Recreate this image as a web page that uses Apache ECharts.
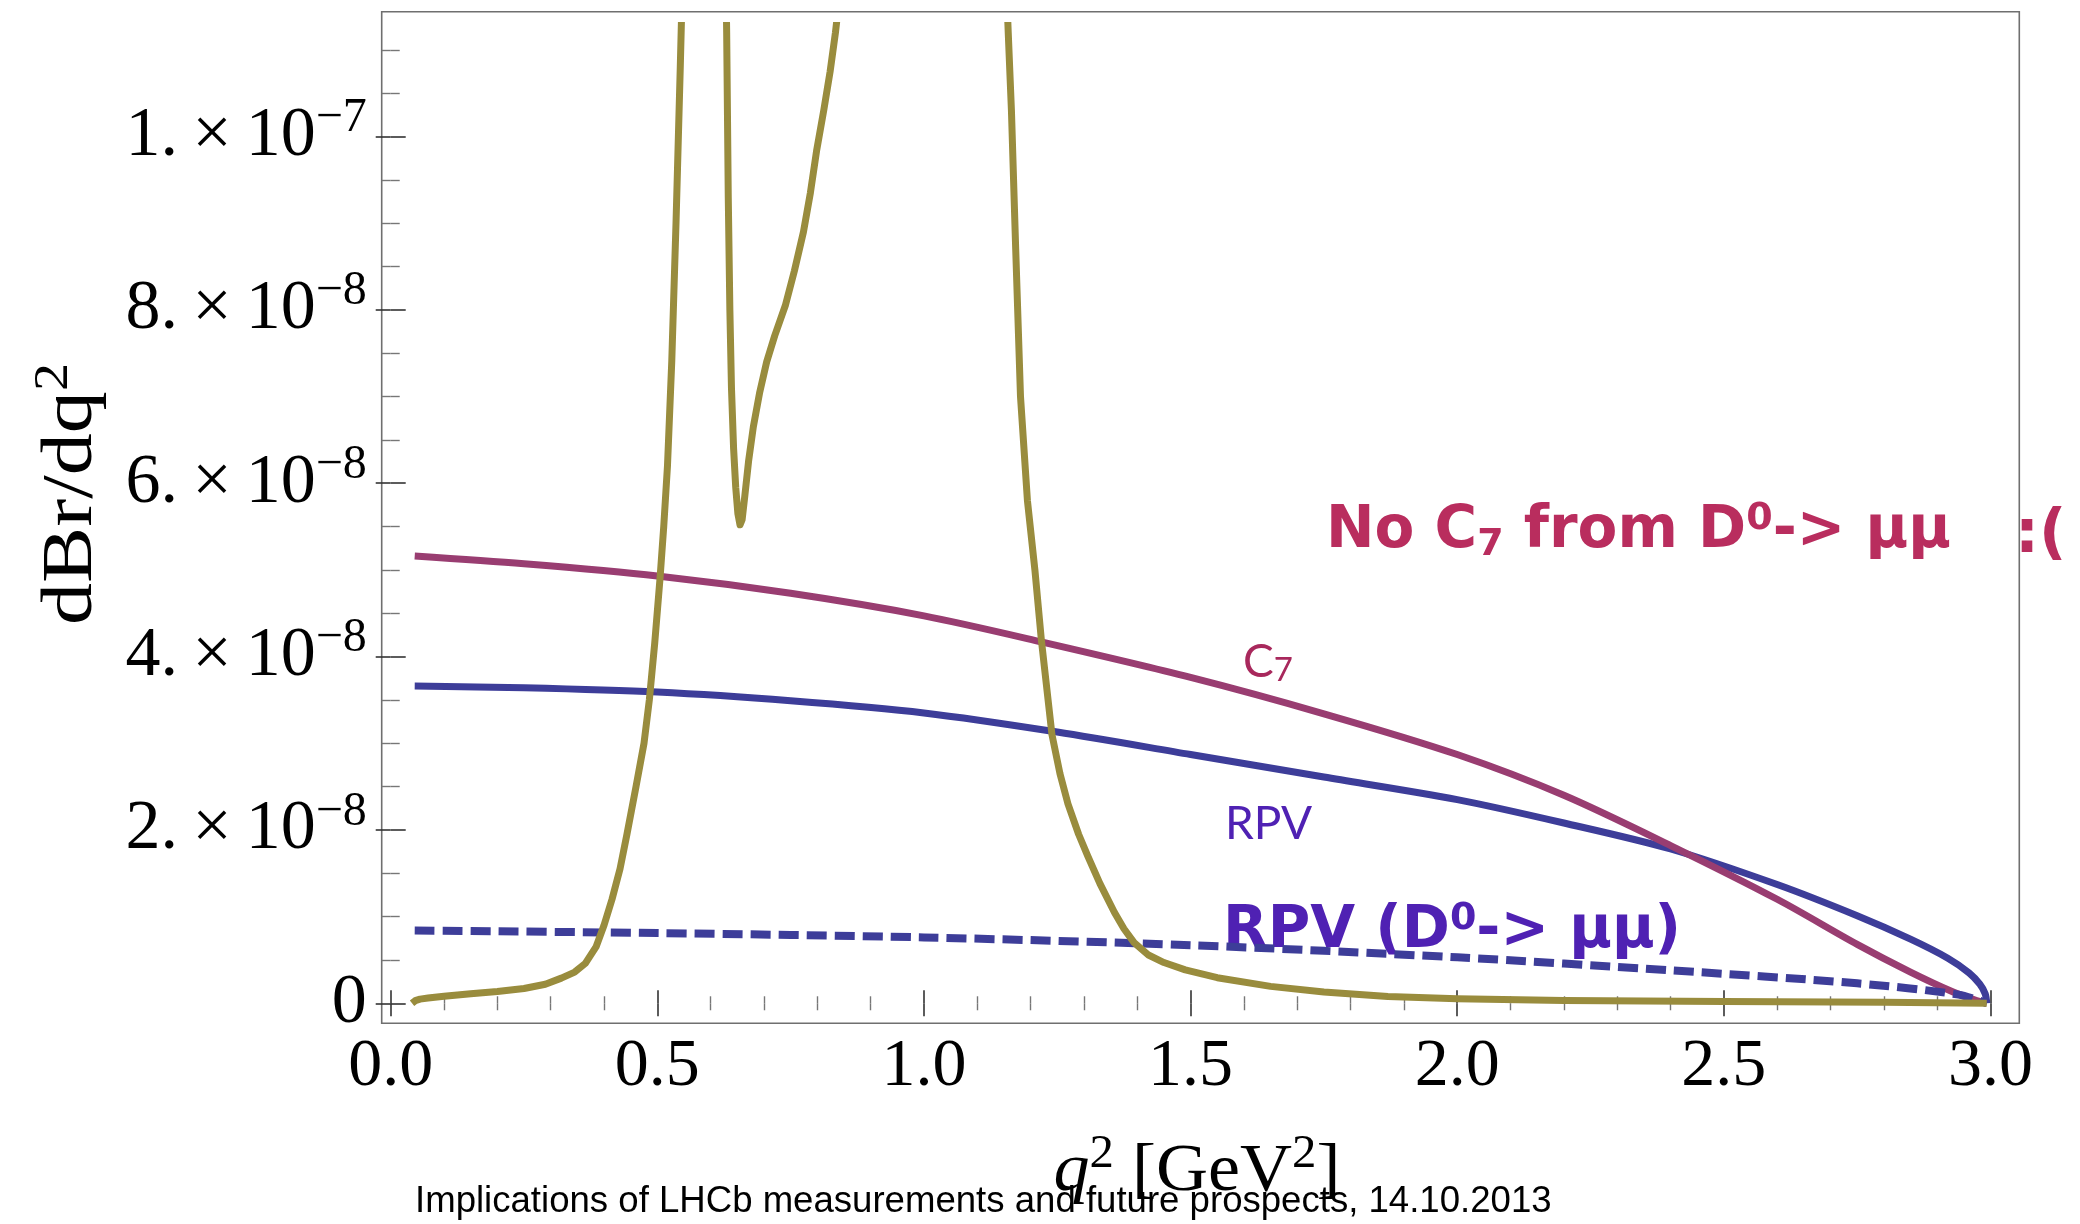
<!DOCTYPE html>
<html>
<head>
<meta charset="utf-8">
<script src="https://cdn.jsdelivr.net/npm/echarts@6/dist/echarts.min.js"></script>
<style>
html,body{margin:0;padding:0;background:#fff;}
#chart{width:2080px;height:1224px;}
</style>
</head>
<body>
<div id="chart"></div>
<script>
// ---------------- data ----------------
// q^2 in GeV^2, dBr/dq^2
const q2Rpv = [0.045, 0.25, 0.5, 0.75, 1.0, 1.25, 1.5, 1.75, 2.0, 2.2, 2.4, 2.6, 2.75, 2.85, 2.92, 2.96, 2.98, 2.99, 2.993];
const brRpv = [3.66e-8, 3.64e-8, 3.59e-8, 3.49e-8, 3.35e-8, 3.13e-8, 2.87e-8, 2.61e-8, 2.35e-8, 2.08e-8, 1.78e-8, 1.37e-8, 1.01e-8, 0.74e-8, 0.52e-8, 0.35e-8, 0.22e-8, 0.11e-8, 0];

const q2C7 = [0.045, 0.25, 0.5, 0.75, 1.0, 1.22, 1.5, 1.75, 2.0, 2.2, 2.4, 2.6, 2.75, 2.85, 2.93, 2.97, 2.993];
const brC7 = [5.16e-8, 5.07e-8, 4.93e-8, 4.73e-8, 4.47e-8, 4.17e-8, 3.76e-8, 3.34e-8, 2.87e-8, 2.40e-8, 1.82e-8, 1.20e-8, 0.68e-8, 0.36e-8, 0.13e-8, 0.04e-8, 0];

const q2RpvDmumu = [0.045, 0.5, 1.0, 1.5, 2.0, 2.4, 2.75, 2.94, 2.993];
const brRpvDmumu = [8.4e-9, 8.1e-9, 7.6e-9, 6.7e-9, 5.3e-9, 3.8e-9, 2.3e-9, 1.0e-9, 0];

const q2Sm = [0.040, 0.046, 0.055, 0.07, 0.10, 0.15, 0.20, 0.25, 0.29, 0.32, 0.345, 0.365, 0.385, 0.40, 0.415, 0.43, 0.443, 0.46, 0.475, 0.485, 0.495, 0.505, 0.512, 0.519, 0.527, 0.535, 0.543, 0.552, 0.562, 0.59, 0.618, 0.626, 0.630, 0.633, 0.636, 0.639, 0.643, 0.647, 0.651, 0.655, 0.659, 0.664, 0.671, 0.68, 0.692, 0.705, 0.72, 0.74, 0.757, 0.774, 0.787, 0.799, 0.812, 0.824, 0.834, 0.845, 0.87, 1.0, 1.14, 1.153, 1.158, 1.164, 1.172, 1.181, 1.194, 1.208, 1.22, 1.24, 1.255, 1.27, 1.29, 1.307, 1.33, 1.357, 1.375, 1.394, 1.42, 1.45, 1.49, 1.55, 1.65, 1.75, 1.87, 2.0, 2.2, 2.5, 2.8, 2.993];
const brSm = [0, 3.0e-10, 4.8e-10, 6.0e-10, 8.0e-10, 1.1e-9, 1.35e-9, 1.7e-9, 2.2e-9, 2.9e-9, 3.6e-9, 4.6e-9, 6.5e-9, 9.0e-9, 1.2e-8, 1.55e-8, 1.95e-8, 2.5e-8, 3.0e-8, 3.5e-8, 4.15e-8, 4.9e-8, 5.5e-8, 6.2e-8, 7.4e-8, 9.0e-8, 1.08e-7, 1.3e-7, 1.6e-7, 2.5e-7, 1.6e-7, 1.3e-7, 1.12e-7, 9.3e-8, 8.0e-8, 7.1e-8, 6.4e-8, 5.95e-8, 5.65e-8, 5.52e-8, 5.58e-8, 5.85e-8, 6.25e-8, 6.65e-8, 7.05e-8, 7.4e-8, 7.7e-8, 8.05e-8, 8.45e-8, 8.9e-8, 9.35e-8, 9.85e-8, 1.03e-7, 1.075e-7, 1.12e-7, 1.18e-7, 1.4e-7, 3.0e-7, 1.4e-7, 1.2e-7, 1.12e-7, 1.03e-7, 8.7e-8, 7.0e-8, 5.8e-8, 5.0e-8, 4.2e-8, 3.1e-8, 2.65e-8, 2.3e-8, 1.95e-8, 1.7e-8, 1.38e-8, 1.05e-8, 8.6e-9, 7.0e-9, 5.6e-9, 4.7e-9, 3.85e-9, 2.95e-9, 1.95e-9, 1.3e-9, 7.8e-10, 5.2e-10, 3.2e-10, 2.0e-10, 1.1e-10, 0];

// ticks and tick labels
const xMajorTicks = [0, 0.5, 1.0, 1.5, 2.0, 2.5, 3.0];
const xTickLabels = ['0.0', '0.5', '1.0', '1.5', '2.0', '2.5', '3.0'];
const xMinorTicks = [0.1, 0.2, 0.3, 0.4, 0.6, 0.7, 0.8, 0.9, 1.1, 1.2, 1.3, 1.4, 1.6, 1.7, 1.8, 1.9, 2.1, 2.2, 2.3, 2.4, 2.6, 2.7, 2.8, 2.9];
const yMajorTicks = [0, 2e-8, 4e-8, 6e-8, 8e-8, 1e-7];
const yTickMantissa = ['0', '2.', '4.', '6.', '8.', '1.'];
const yTickExponent = ['', '\u22128', '\u22128', '\u22128', '\u22128', '\u22127'];
const yMinorTicks = [5e-9, 1e-8, 1.5e-8, 2.5e-8, 3e-8, 3.5e-8, 4.5e-8, 5e-8, 5.5e-8, 6.5e-8, 7e-8, 7.5e-8, 8.5e-8, 9e-8, 9.5e-8, 1.05e-7, 1.1e-7];

// axis ranges (plot range with frame padding)
const xRange = [-0.0169, 3.054];
const yRange = [-2.31e-9, 1.144e-7];
const yClipMax = 1.128e-7;

// ---------------- layout ----------------
const FR = { left: 381.7, top: 11.7, right: 2019.3, bottom: 1023.3 };
const FW = FR.right - FR.left, FH = FR.bottom - FR.top;
const clipTop = FR.top + (yRange[1] - yClipMax) / (yRange[1] - yRange[0]) * FH;

const SERIF = "'Liberation Serif', 'DejaVu Serif', serif";
const SANS = "Lato, 'Open Sans', 'Noto Sans', sans-serif";
const HEAVY = "'DejaVu Sans', 'Noto Sans', sans-serif";

const BLUE = '#3D3D99', MAGENTA = '#993D71', OLIVE = '#998C3D';
const CRIMSON = '#B92D5E', C7COL = '#A8285C', PURPLE = '#4F21B3';

const zip = (a, b) => a.map((v, i) => [v, b[i]]);

function yLabel(v) {
  const i = yMajorTicks.findIndex(t => Math.abs(t - v) < 1e-12);
  if (i < 0) return '';
  if (!yTickExponent[i]) return '{m|' + yTickMantissa[i] + '}';
  return '{m|' + yTickMantissa[i] + '\u2009\u00d7\u200910}{s|' + yTickExponent[i] + '}';
}
function xLabel(v) {
  const i = xMajorTicks.findIndex(t => Math.abs(t - v) < 1e-9);
  return i < 0 ? '' : xTickLabels[i];
}

const tickMajor = { color: '#333', width: 1.6 };
const tickMinor = { color: '#777', width: 1.4 };

function frameX(position, values, len, style, labels) {
  return {
    type: 'value', gridIndex: 0, position: position, min: xRange[0], max: xRange[1],
    axisLine: { show: false }, splitLine: { show: false },
    axisTick: { show: true, inside: true, length: len, customValues: values, lineStyle: style },
    axisLabel: labels ? {
      show: true, customValues: xMajorTicks, formatter: xLabel, margin: 10,
      fontFamily: SERIF, fontSize: 68, color: '#000'
    } : { show: false }
  };
}
function frameY(position, values, len, style, labels) {
  return {
    type: 'value', gridIndex: 0, position: position, min: yRange[0], max: yRange[1],
    axisLine: { show: false }, splitLine: { show: false },
    axisTick: { show: true, inside: true, length: len, customValues: values, lineStyle: style },
    axisLabel: labels ? {
      show: true, customValues: yMajorTicks, formatter: yLabel, margin: 15,
      rich: {
        m: { fontFamily: SERIF, fontSize: 70, color: '#000', lineHeight: 84 },
        s: { fontFamily: SERIF, fontSize: 48, color: '#000', verticalAlign: 'top', padding: [0, 0, 36, 0] }
      }
    } : { show: false }
  };
}

const lineBase = { type: 'line', xAxisIndex: 4, yAxisIndex: 4, showSymbol: false, symbol: 'none', clip: true, silent: true, animation: false };

const option = {
  backgroundColor: '#ffffff',
  animation: false,
  grid: [
    { left: FR.left, top: FR.top, width: FW, height: FH, show: true, borderColor: '#6f6f6f', borderWidth: 1.6, backgroundColor: 'transparent', containLabel: false },
    { left: FR.left, top: clipTop, width: FW, height: FR.bottom - clipTop, show: false, containLabel: false }
  ],
  xAxis: [
    frameX('bottom', xMajorTicks, 13, tickMajor, true),
    frameX('bottom', xMinorTicks, 7, tickMinor, false),
    frameX('top', xMajorTicks, 13, tickMajor, false),
    frameX('top', xMinorTicks, 7, tickMinor, false),
    { type: 'value', gridIndex: 1, min: xRange[0], max: xRange[1], show: false }
  ],
  yAxis: [
    frameY('left', yMajorTicks, 15, tickMajor, true),
    frameY('left', yMinorTicks, 9, tickMinor, false),
    frameY('right', yMajorTicks, 15, tickMajor, false),
    frameY('right', yMinorTicks, 9, tickMinor, false),
    { type: 'value', gridIndex: 1, min: yRange[0], max: yClipMax, show: false }
  ],
  series: [
    Object.assign({}, lineBase, { name: 'RPV', data: zip(q2Rpv, brRpv), smooth: 0.3, lineStyle: { color: BLUE, width: 7 }, z: 3 }),
    Object.assign({}, lineBase, { name: 'C7', data: zip(q2C7, brC7), smooth: 0.3, lineStyle: { color: MAGENTA, width: 7 }, z: 4 }),
    Object.assign({}, lineBase, { name: 'RPV (D0->mumu)', data: zip(q2RpvDmumu, brRpvDmumu), smooth: 0.3, lineStyle: { color: BLUE, width: 8, type: [20, 8], cap: 'butt' }, z: 5 }),
    Object.assign({}, lineBase, { name: 'SM', data: zip(q2Sm, brSm), smooth: false, lineStyle: { color: OLIVE, width: 7, join: 'round' }, z: 6 })
  ],
  graphic: [
    { type: 'text', x: 72, y: 494, rotation: Math.PI / 2, scaleX: 1.17, z: 1,
      style: { text: '{n|dBr/dq}{s|2}', align: 'center', verticalAlign: 'middle', fill: '#000',
        rich: { n: { fontFamily: SERIF, fontSize: 72, fill: '#000', lineHeight: 84 },
                s: { fontFamily: SERIF, fontSize: 48, fill: '#000', verticalAlign: 'top', padding: [0, 0, 30, 0] } } } },
    { type: 'text', x: 1197, y: 1172, scaleX: 1.06, z: 1,
      style: { text: '{i|q}{s|2}{n| [GeV}{s|2}{n|]}', align: 'center', verticalAlign: 'middle', fill: '#000',
        rich: { i: { fontFamily: SERIF, fontSize: 68, fontStyle: 'italic', fill: '#000', lineHeight: 80 },
                n: { fontFamily: SERIF, fontSize: 68, fill: '#000', lineHeight: 80 },
                s: { fontFamily: SERIF, fontSize: 46, fill: '#000', verticalAlign: 'top', padding: [0, 0, 30, 0] } } } },
    { type: 'text', x: 1326, y: 532, z: 1,
      style: { text: '{b|No C}{sub|7}{b| from D}{sup|0}{b|-> \u03bc\u03bc}', align: 'left', verticalAlign: 'middle', fill: CRIMSON,
        rich: { b: { fontFamily: HEAVY, fontSize: 58, fontWeight: 'bold', fill: CRIMSON, lineHeight: 64 },
                sub: { fontFamily: HEAVY, fontSize: 38, fontWeight: 'bold', fill: CRIMSON, verticalAlign: 'bottom' },
                sup: { fontFamily: HEAVY, fontSize: 38, fontWeight: 'bold', fill: CRIMSON, verticalAlign: 'top' } } } },
    { type: 'text', x: 2015, y: 536, z: 1,
      style: { text: ':(', align: 'left', verticalAlign: 'middle', fill: CRIMSON,
        font: 'bold 60px ' + HEAVY } },
    { type: 'text', x: 1243, y: 662, z: 1,
      style: { text: '{n|C}{sub|7}', align: 'left', verticalAlign: 'middle', fill: C7COL,
        rich: { n: { fontFamily: SANS, fontSize: 46, fill: C7COL, lineHeight: 50 },
                sub: { fontFamily: SANS, fontSize: 33, fill: C7COL, verticalAlign: 'bottom' } } } },
    { type: 'text', x: 1225, y: 824, z: 1,
      style: { text: 'RPV', align: 'left', verticalAlign: 'middle', fill: PURPLE, font: '46px ' + SANS } },
    { type: 'text', x: 1223, y: 932, z: 1,
      style: { text: '{b|RPV (D}{sup|0}{b|-> \u03bc\u03bc)}', align: 'left', verticalAlign: 'middle', fill: PURPLE,
        rich: { b: { fontFamily: HEAVY, fontSize: 58, fontWeight: 'bold', fill: PURPLE, lineHeight: 64 },
                sup: { fontFamily: HEAVY, fontSize: 38, fontWeight: 'bold', fill: PURPLE, verticalAlign: 'top' } } } },
    { type: 'text', x: 415, y: 1220, z: 10,
      style: { text: 'Implications of LHCb measurements and future prospects, 14.10.2013', align: 'left', verticalAlign: 'bottom',
        fill: '#000', font: '36.6px "Liberation Sans", Arial, sans-serif' } }
  ]
};

const chart = echarts.init(document.getElementById('chart'), null, { renderer: 'canvas', width: 2080, height: 1224 });
chart.setOption(option);
</script>
</body>
</html>
